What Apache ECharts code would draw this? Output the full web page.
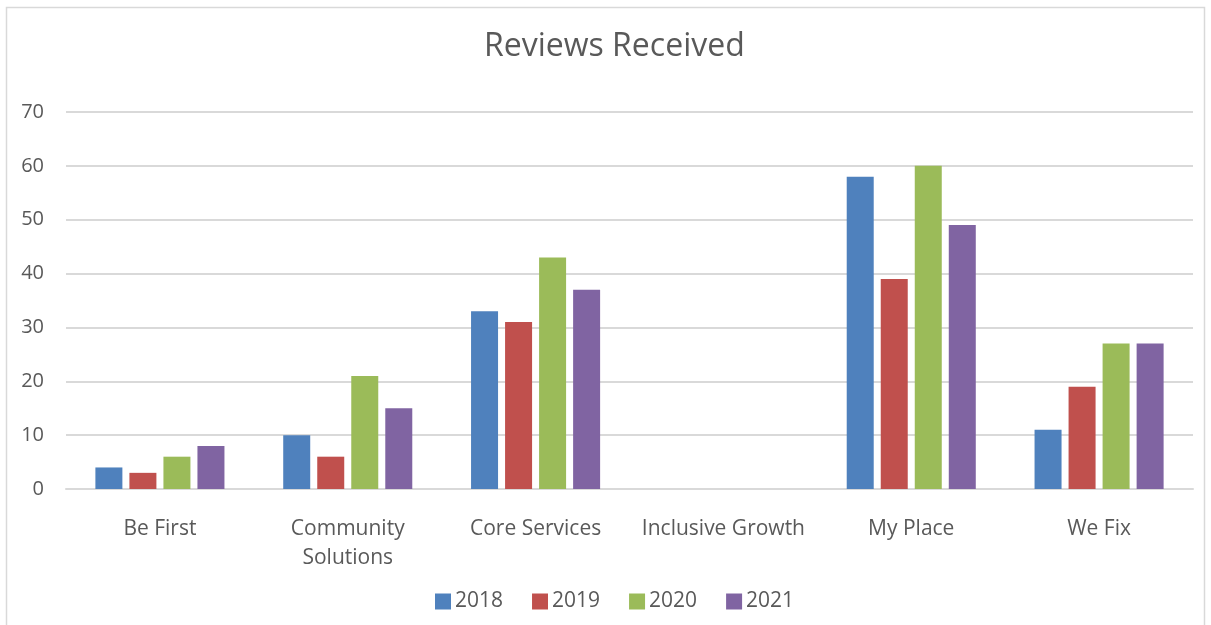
<!DOCTYPE html>
<html>
<head>
<meta charset="utf-8">
<script src="https://cdn.jsdelivr.net/npm/echarts@6/dist/echarts.min.js"></script>
<style>
  html, body { margin: 0; padding: 0; background: #fff; }
  #chart { width: 1211px; height: 625px; }
</style>
</head>
<body>
<div id="chart"></div>
<script>
// Reviews received per programme, by year
const categories = ['Be First', 'Community\nSolutions', 'Core Services', 'Inclusive Growth', 'My Place', 'We Fix'];
const years = ['2018', '2019', '2020', '2021'];
const values2018 = [4, 10, 33, 0, 58, 11];
const values2019 = [3, 6, 31, 0, 39, 19];
const values2020 = [6, 21, 43, 0, 60, 27];
const values2021 = [8, 15, 37, 0, 49, 27];
const yTicks = { min: 0, max: 70, interval: 10 };

const colors = ['#4F81BD', '#C0504D', '#9BBB59', '#8064A2'];
const seriesValues = [values2018, values2019, values2020, values2021];
const textColor = '#595959';
const fontFamily = '"Open Sans", "Noto Sans", sans-serif';

const chart = echarts.init(document.getElementById('chart'), null, { renderer: 'canvas' });

chart.setOption({
  animation: false,
  color: colors,
  textStyle: { fontFamily: fontFamily },
  graphic: [{
    type: 'rect',
    shape: { x: 6.5, y: 7.5, width: 1198, height: 640 },
    style: { fill: 'none', stroke: '#d9d9d9', lineWidth: 1.5 },
    silent: true,
    z: -1
  }],
  title: {
    text: 'Reviews Received',
    left: 479,
    top: 26,
    textStyle: { fontFamily: fontFamily, fontSize: 32, fontWeight: 'normal', color: textColor }
  },
  legend: {
    data: years,
    bottom: 8,
    left: 430,
    itemWidth: 16,
    itemHeight: 16,
    itemGap: 29,
    icon: 'rect',
    textStyle: { fontFamily: fontFamily, fontSize: 21, color: textColor, padding: [0, 0, 0, -1] }
  },
  grid: { left: 66, right: 18, top: 112, bottom: 136, containLabel: false },
  xAxis: {
    type: 'category',
    data: categories,
    axisTick: { show: false },
    axisLine: { lineStyle: { color: '#d9d9d9', width: 2 } },
    axisLabel: {
      color: textColor,
      fontSize: 21,
      fontFamily: fontFamily,
      margin: 26,
      lineHeight: 29,
      interval: 0
    }
  },
  yAxis: {
    type: 'value',
    min: yTicks.min,
    max: yTicks.max,
    interval: yTicks.interval,
    axisLine: { show: false },
    axisTick: { show: false },
    splitLine: { lineStyle: { color: '#d9d9d9', width: 2 } },
    axisLabel: { color: textColor, fontSize: 20, fontFamily: fontFamily, margin: 22 }
  },
  series: years.map((y, i) => ({
    name: y,
    type: 'bar',
    data: seriesValues[i],
    barWidth: 27,
    barGap: '26%',
    itemStyle: { color: colors[i] }
  }))
});
</script>
</body>
</html>
